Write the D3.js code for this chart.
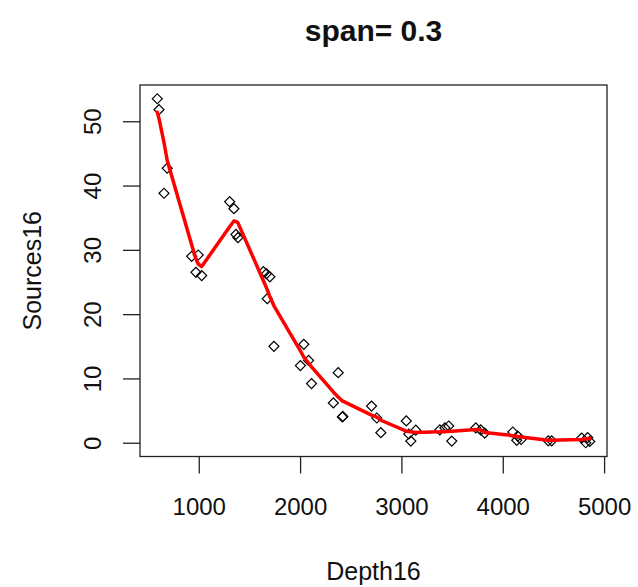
<!DOCTYPE html>
<html>
<head>
<meta charset="utf-8">
<script src="https://cdn.jsdelivr.net/npm/d3@7"></script>
<style>
  body { margin: 0; background: #fff; }
  svg { display: block; }
  text { font-family: "Liberation Sans", Arial, Helvetica, sans-serif; fill: #111; }
</style>
</head>
<body>
<svg id="chart" width="638" height="587"></svg>
<script>
// Observations: depth vs. number of sources
const depth16 = [591, 608, 657, 689, 930, 972, 995, 1029, 1305, 1347, 1367, 1387,
  1638, 1668, 1676, 1702, 1742, 2003, 2037, 2084, 2113, 2328, 2376, 2417, 2422,
  2705, 2757, 2797, 3048, 3073, 3093, 3142, 3379, 3429, 3467, 3497, 3734, 3783,
  3822, 4099, 4138, 4148, 4182, 4449, 4483, 4779, 4819, 4838, 4858];
const sources16 = [53.5, 51.8, 38.8, 42.7, 29.0, 26.5, 29.2, 26.0, 37.5, 36.4, 32.4, 31.9,
  26.6, 26.3, 22.4, 25.8, 15.0, 12.0, 15.3, 12.8, 9.2, 6.2, 10.9, 4.0, 4.1,
  5.7, 3.85, 1.56, 3.4, 1.36, 0.26, 1.95, 2.0, 2.3, 2.6, 0.26, 2.3, 2.0,
  1.5, 1.67, 0.37, 1.04, 0.5, 0.3, 0.3, 0.73, 0.0, 0.8, 0.2];

// Local regression fit (span = 0.3) at the sorted depths
const fitDepth = [591, 608, 657, 689, 930, 972, 995, 1029, 1305, 1347, 1367, 1387,
  1638, 1668, 1676, 1702, 1742, 2003, 2037, 2084, 2113, 2328, 2376, 2417,
  2705, 2757, 2797, 3048, 3093, 3142, 3379, 3497, 3734, 3783, 3822, 4099,
  4182, 4449, 4483, 4779, 4858];
const fitSources = [51.4, 50.4, 46.7, 43.9, 30.8, 28.6, 27.8, 27.4, 33.6, 34.5, 34.4, 34.2,
  25.2, 24.1, 23.8, 22.7, 21.3, 14.3, 13.3, 12.4, 11.8, 7.9, 7.1, 6.5,
  4.3, 4.0, 3.5, 1.8, 1.7, 1.6, 1.7, 1.8, 2.05, 2.0, 1.6, 1.1,
  0.9, 0.4, 0.4, 0.5, 0.7];

const xTicks = [1000, 2000, 3000, 4000, 5000];
const yTicks = [0, 10, 20, 30, 40, 50];
const chartTitle = "span= 0.3";
const xTitle = "Depth16";
const yTitle = "Sources16";

const box = { left: 140, right: 607, top: 85, bottom: 456.5 };
const tickLen = 17;

// axis ranges padded by 4% on each side
function padded(ext) {
  const r = ext[1] - ext[0];
  return [ext[0] - 0.04 * r, ext[1] + 0.04 * r];
}

const svg = d3.select("#chart");

const x = d3.scaleLinear()
  .domain(padded(d3.extent(depth16)))
  .range([box.left, box.right]);
const y = d3.scaleLinear()
  .domain(padded(d3.extent(sources16)))
  .range([box.bottom, box.top]);

// x axis
const gx = svg.append("g")
  .attr("transform", `translate(0,${box.bottom})`)
  .call(d3.axisBottom(x).tickValues(xTicks).tickSize(tickLen).tickFormat(d3.format("d")));
gx.select(".domain").remove();
gx.selectAll(".tick line").attr("stroke", "#222").attr("stroke-width", 1.3);
gx.selectAll(".tick text")
  .attr("y", 58.5).attr("dy", null)
  .attr("font-size", 24)
  .attr("font-family", null)
  .attr("fill", "#111");

// y axis with labels rotated parallel to the axis
const gy = svg.append("g")
  .attr("transform", `translate(${box.left},0)`)
  .call(d3.axisLeft(y).tickValues(yTicks).tickSize(tickLen).tickFormat(d3.format("d")));
gy.select(".domain").remove();
gy.selectAll(".tick line").attr("stroke", "#222").attr("stroke-width", 1.3);
gy.selectAll(".tick text")
  .attr("x", 0).attr("y", 0).attr("dy", null)
  .attr("transform", "translate(-39,0) rotate(-90)")
  .attr("text-anchor", "middle")
  .attr("font-size", 24)
  .attr("font-family", null)
  .attr("fill", "#111");

// plot frame
svg.append("rect")
  .attr("x", box.left).attr("y", box.top)
  .attr("width", box.right - box.left).attr("height", box.bottom - box.top)
  .attr("fill", "none").attr("stroke", "#222").attr("stroke-width", 1.3);

// open diamond markers
const diamond = d3.symbol().type(d3.symbolSquare).size(50);
svg.append("g")
  .selectAll("path")
  .data(depth16.map((d, i) => [d, sources16[i]]))
  .join("path")
  .attr("d", diamond)
  .attr("transform", d => `translate(${x(d[0])},${y(d[1])}) rotate(45)`)
  .attr("fill", "none")
  .attr("stroke", "#000")
  .attr("stroke-width", 1.2);

// fitted curve
const line = d3.line().x(d => x(d[0])).y(d => y(d[1]));
svg.append("path")
  .datum(fitDepth.map((d, i) => [d, fitSources[i]]))
  .attr("d", line)
  .attr("fill", "none")
  .attr("stroke", "#ff0000")
  .attr("stroke-width", 3.5)
  .attr("stroke-linejoin", "round")
  .attr("stroke-linecap", "round");

// titles
const cx = (box.left + box.right) / 2;
svg.append("text")
  .attr("x", cx).attr("y", 41)
  .attr("text-anchor", "middle")
  .attr("font-size", 30).attr("font-weight", "bold")
  .attr("fill", "#000")
  .text(chartTitle);

svg.append("text")
  .attr("x", cx).attr("y", 580)
  .attr("text-anchor", "middle")
  .attr("font-size", 25)
  .text(xTitle);

svg.append("text")
  .attr("transform", `translate(41,${(box.top + box.bottom) / 2}) rotate(-90)`)
  .attr("text-anchor", "middle")
  .attr("font-size", 25)
  .text(yTitle);
</script>
</body>
</html>
